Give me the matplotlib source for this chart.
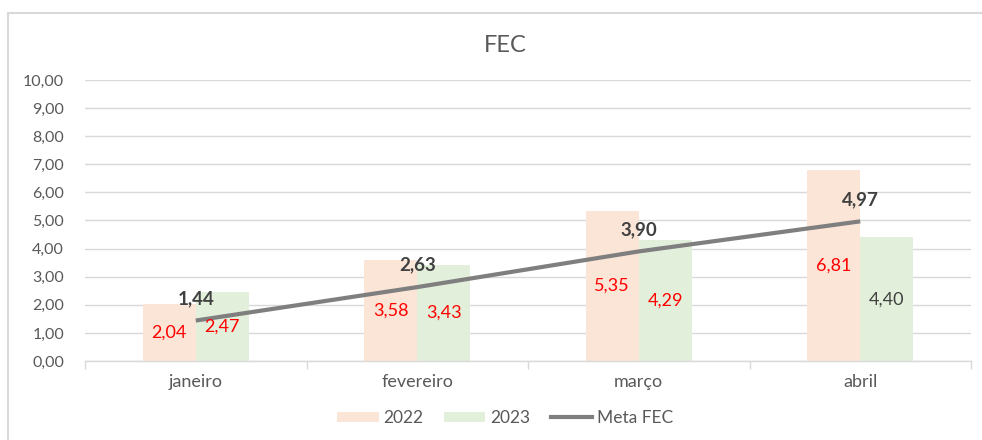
import matplotlib
matplotlib.use("Agg")
import matplotlib.pyplot as plt
from matplotlib.patches import Rectangle, Patch
from matplotlib.lines import Line2D
import numpy as np

plt.rcParams['font.family'] = ['Lato', 'DejaVu Sans']

categories = ["janeiro", "fevereiro", "março", "abril"]
values_2022 = [2.04, 3.58, 5.35, 6.81]
values_2023 = [2.47, 3.43, 4.29, 4.40]
meta_fec = [1.44, 2.63, 3.90, 4.97]
label_colors_2023 = ["#FF0000", "#FF0000", "#FF0000", "#404040"]
yticks = [0, 1, 2, 3, 4, 5, 6, 7, 8, 9, 10]

def fmt(v):
    return f"{v:.2f}".replace(".", ",")

W, H = 982, 440
fig = plt.figure(figsize=(W / 100, H / 100), dpi=100)
fig.patch.set_facecolor("white")

# outer border (chart area frame)
fig.add_artist(Rectangle((8 / W, -0.05), 1.2, (H - 13) / H + 0.05,
                         transform=fig.transFigure, fill=False,
                         edgecolor="#d9d9d9", linewidth=1.5))

ax = fig.add_axes([85 / W, 1 - 361 / H, (971 - 85) / W, (361 - 80) / H])
x = np.arange(len(categories))
bw = 0.24
ax.bar(x - bw / 2, values_2022, width=bw, color="#FBE5D6", zorder=2, label="2022")
ax.bar(x + bw / 2, values_2023, width=bw, color="#E2EFDA", zorder=2, label="2023")
ax.plot(x, meta_fec, color="#7F7F7F", linewidth=3, zorder=3, solid_capstyle="butt", label="Meta FEC")

for i in range(len(categories)):
    ax.text(x[i] - bw / 2, values_2022[i] / 2, fmt(values_2022[i]), ha="center", va="center",
            color="#FF0000", fontsize=13, zorder=4)
    ax.text(x[i] + bw / 2, values_2023[i] / 2, fmt(values_2023[i]), ha="center", va="center",
            color=label_colors_2023[i], fontsize=13, zorder=4)
    ax.text(x[i], meta_fec[i] + 0.78, fmt(meta_fec[i]), ha="center", va="center",
            color="#404040", fontsize=13.5, fontweight="bold", zorder=4)

ax.set_xlim(-0.5, len(categories) - 0.5)
ax.set_ylim(0, 10)
ax.set_yticks(yticks)
ax.set_yticklabels([fmt(v) for v in yticks], color="#595959", fontsize=11.5)
ax.yaxis.grid(True, color="#d9d9d9", linewidth=1, zorder=0)
ax.set_axisbelow(True)
ax.tick_params(axis="y", length=0, pad=15)
ax.set_xticks(x)
ax.set_xticklabels(categories, color="#595959", fontsize=13)
ax.tick_params(axis="x", length=0, pad=9)
ax.set_xticks(np.arange(-0.5, len(categories), 1), minor=True)
ax.tick_params(axis="x", which="minor", length=6, color="#d9d9d9", width=1)
for s in ["top", "right", "left"]:
    ax.spines[s].set_visible(False)
ax.spines["bottom"].set_color("#d9d9d9")
ax.spines["bottom"].set_linewidth(1)

fig.text(505 / W, 1 - 45 / H, "FEC", ha="center", va="center", color="#595959", fontsize=17)

handles = [Patch(facecolor="#FBE5D6", edgecolor="none"),
           Patch(facecolor="#E2EFDA", edgecolor="none"),
           Line2D([0], [0], color="#7F7F7F", linewidth=3)]
leg = fig.legend(handles, ["2022", "2023", "Meta FEC"], loc="center",
                 bbox_to_anchor=(505 / W, 1 - 418 / H), ncol=3, frameon=False,
                 fontsize=12.5, handlelength=2.4, handleheight=0.55, columnspacing=1.2,
                 handletextpad=0.25)
for t in leg.get_texts():
    t.set_color("#595959")

fig.savefig("out.png", dpi=100)
